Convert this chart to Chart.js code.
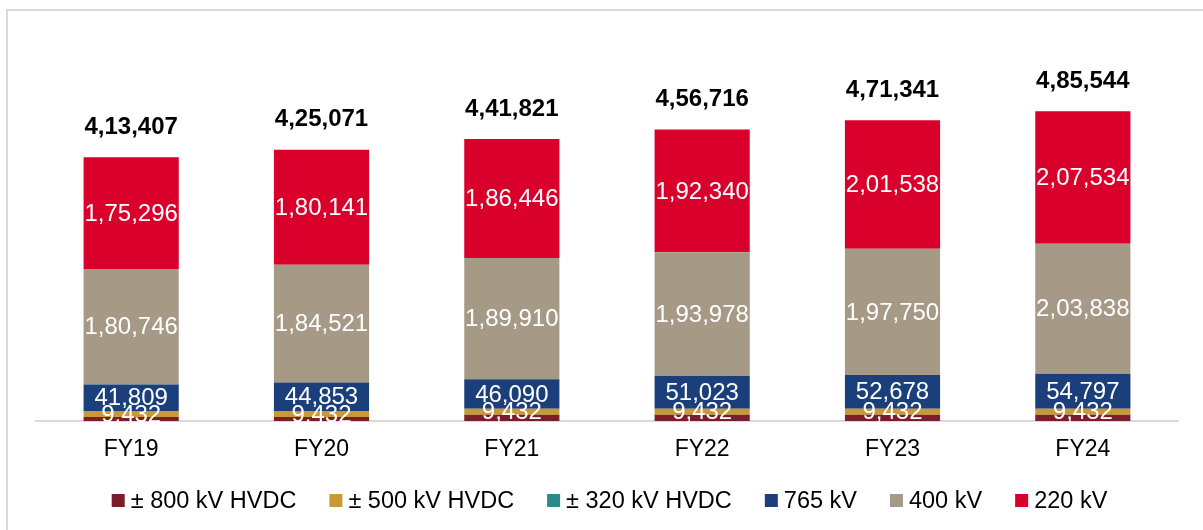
<!DOCTYPE html>
<html>
<head>
<meta charset="utf-8">
<script src="https://cdn.jsdelivr.net/npm/chart.js@4/dist/chart.umd.min.js"></script>
<style>
  html, body { margin: 0; padding: 0; background: #ffffff; }
  #wrap { position: relative; width: 1203px; height: 530px; }
  canvas { display: block; }
</style>
</head>
<body>
<div id="wrap"><canvas id="c" width="1203" height="530"></canvas></div>
<script>
// ---- Data ----
const categories = ['FY19', 'FY20', 'FY21', 'FY22', 'FY23', 'FY24'];
const hvdc800 = [6124, 6124, 9655, 9655, 9655, 9655];
const hvdc500 = [9432, 9432, 9432, 9432, 9432, 9432];
const hvdc320 = [0, 0, 288, 288, 288, 288];
const kv765 = [41809, 44853, 46090, 51023, 52678, 54797];
const kv400 = [180746, 184521, 189910, 193978, 197750, 203838];
const kv220 = [175296, 180141, 186446, 192340, 201538, 207534];
const totals = [413407, 425071, 441821, 456716, 471341, 485544];
const seriesNames = ['± 800 kV HVDC', '± 500 kV HVDC', '± 320 kV HVDC', '765 kV', '400 kV', '220 kV'];

const FONT = '"Liberation Sans", Arial, sans-serif';

function indianFormat(n) {
  const s = String(Math.round(n));
  if (s.length <= 3) return s;
  const last3 = s.slice(-3);
  let rest = s.slice(0, -3);
  const parts = [];
  while (rest.length > 2) { parts.unshift(rest.slice(-2)); rest = rest.slice(0, -2); }
  if (rest.length) parts.unshift(rest);
  return parts.join(',') + ',' + last3;
}

const colors = ['#7B1E2B', '#C99A34', '#2A8A8A', '#1B3F7A', '#A69A86', '#D9002B'];
const seriesData = [hvdc800, hvdc500, hvdc320, kv765, kv400, kv220];
const showLabel = [false, true, false, true, true, true];

const datasets = seriesData.map((d, i) => ({
  label: seriesNames[i],
  data: d,
  backgroundColor: colors[i],
  borderWidth: 0,
  categoryPercentage: 1.0,
  barPercentage: 0.5,
  showLabel: showLabel[i]
}));

const framePlugin = {
  id: 'frame',
  beforeDraw(chart) {
    const ctx = chart.ctx;
    ctx.save();
    ctx.fillStyle = '#ffffff';
    ctx.fillRect(0, 0, chart.width, chart.height);
    ctx.strokeStyle = '#d9d9d9';
    ctx.lineWidth = 2;
    ctx.strokeRect(7, 10, chart.width + 20, chart.height + 20);
    ctx.restore();
  }
};

const labelPlugin = {
  id: 'labels',
  afterDraw(chart) {
    const ctx = chart.ctx;
    ctx.save();
    ctx.textAlign = 'center';
    ctx.textBaseline = 'middle';
    // segment labels
    chart.data.datasets.forEach((ds, di) => {
      if (!ds.showLabel) return;
      const meta = chart.getDatasetMeta(di);
      meta.data.forEach((bar, i) => {
        const v = ds.data[i];
        if (!v) return;
        const yc = (bar.y + bar.base) / 2;
        ctx.font = '24px ' + FONT;
        ctx.fillStyle = '#ffffff';
        ctx.fillText(indianFormat(v), bar.x, yc + 1);
      });
    });
    // totals
    const yScale = chart.scales.y;
    const meta0 = chart.getDatasetMeta(0);
    totals.forEach((t, i) => {
      const x = meta0.data[i].x;
      const y = yScale.getPixelForValue(t);
      ctx.font = 'bold 24px ' + FONT;
      ctx.fillStyle = '#000000';
      ctx.fillText(indianFormat(t), x, y - 30);
    });
    // legend
    ctx.font = '23.5px ' + FONT;
    ctx.textAlign = 'left';
    const box = 13, gapBoxText = 6, itemGap = 33;
    const widths = chart.data.datasets.map(ds => box + gapBoxText + ctx.measureText(ds.label).width);
    const total = widths.reduce((a, b) => a + b, 0) + itemGap * (widths.length - 1);
    let x = (chart.width - total) / 2 + 8;
    const yc = 501;
    chart.data.datasets.forEach((ds, i) => {
      ctx.fillStyle = ds.backgroundColor;
      ctx.fillRect(x, yc - 7, box, box);
      ctx.fillStyle = '#000000';
      ctx.fillText(ds.label, x + box + gapBoxText, yc + 1);
      x += widths[i] + itemGap;
    });
    ctx.restore();
  }
};

new Chart(document.getElementById('c'), {
  type: 'bar',
  data: { labels: categories, datasets },
  options: {
    responsive: false,
    animation: false,
    layout: { padding: { left: 36, right: 25, top: 102, bottom: 0 } },
    plugins: {
      legend: { display: false },
      tooltip: { enabled: false }
    },
    scales: {
      x: {
        stacked: true,
        grid: { display: false, drawTicks: false },
        border: { display: true, color: '#d9d9d9', width: 2 },
        ticks: { color: '#000000', font: { family: FONT, size: 23 }, padding: 15 },
        afterFit(scale) { scale.height = 109; }
      },
      y: {
        stacked: true,
        display: false,
        min: 0,
        max: 500000
      }
    }
  },
  plugins: [framePlugin, labelPlugin]
});
</script>
</body>
</html>
